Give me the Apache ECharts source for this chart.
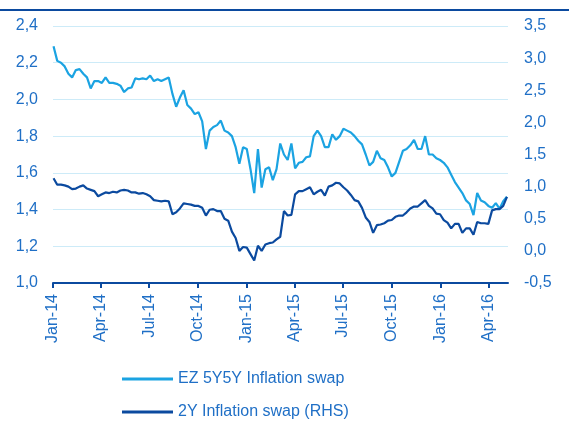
<!DOCTYPE html>
<html>
<head>
<meta charset="utf-8">
<script src="https://cdn.jsdelivr.net/npm/echarts@6/dist/echarts.min.js"></script>
<style>
  html, body { margin: 0; padding: 0; background: #fff; }
  #chart { width: 569px; height: 424px; }
</style>
</head>
<body>
<div id="chart"></div>
<script>
// weekly observations, first one on 2 Jan 2014
const firstDay = '2014-01-02';

// EZ 5Y5Y inflation swap (left axis)
const ez5y5y = [
  2.29, 2.21, 2.20, 2.18, 2.14, 2.12, 2.16, 2.165, 2.14, 2.12,
  2.06, 2.10, 2.10, 2.09, 2.12, 2.09, 2.09, 2.085, 2.075, 2.04,
  2.06, 2.065, 2.115, 2.11, 2.115, 2.11, 2.13, 2.10, 2.11, 2.10,
  2.11, 2.12, 2.03, 1.96, 2.01, 2.05, 1.97, 1.95, 1.92, 1.93,
  1.88, 1.73, 1.83, 1.85, 1.86, 1.885, 1.83, 1.82, 1.80, 1.74,
  1.65, 1.74, 1.73, 1.62, 1.49, 1.73, 1.52, 1.62, 1.63, 1.56,
  1.62, 1.76, 1.70, 1.67, 1.76, 1.625, 1.655, 1.66, 1.685, 1.69,
  1.80, 1.83, 1.80, 1.74, 1.74, 1.81, 1.78, 1.80, 1.84, 1.83,
  1.82, 1.80, 1.775, 1.755, 1.70, 1.64, 1.66, 1.72, 1.68, 1.67,
  1.63, 1.58, 1.60, 1.66, 1.72, 1.73, 1.75, 1.78, 1.73, 1.73,
  1.80, 1.70, 1.70, 1.68, 1.67, 1.655, 1.63, 1.59, 1.55, 1.52,
  1.49, 1.45, 1.43, 1.37, 1.49, 1.45, 1.44, 1.42, 1.41, 1.435,
  1.405, 1.445, 1.47
];

// 2Y inflation swap (right axis)
const swap2y = [
  1.13, 1.03, 1.03, 1.02, 1.00, 0.96, 0.97, 1.00, 1.02, 0.97,
  0.95, 0.93, 0.85, 0.88, 0.91, 0.90, 0.92, 0.91, 0.94, 0.95,
  0.94, 0.91, 0.91, 0.89, 0.90, 0.88, 0.85, 0.79, 0.78, 0.77,
  0.78, 0.77, 0.57, 0.60, 0.66, 0.74, 0.73, 0.72, 0.70, 0.70,
  0.67, 0.55, 0.64, 0.65, 0.62, 0.62, 0.50, 0.47, 0.30, 0.20,
  0.00, 0.06, 0.05, -0.05, -0.15, 0.08, 0.00, 0.10, 0.12, 0.13,
  0.18, 0.22, 0.62, 0.55, 0.56, 0.88, 0.93, 0.93, 0.96, 0.99,
  0.88, 0.92, 0.95, 0.86, 1.00, 1.02, 1.06, 1.05, 0.99, 0.94,
  0.87, 0.79, 0.77, 0.67, 0.52, 0.45, 0.28, 0.40, 0.41, 0.43,
  0.47, 0.48, 0.53, 0.55, 0.55, 0.60, 0.66, 0.69, 0.69, 0.74,
  0.79, 0.70, 0.66, 0.58, 0.57, 0.48, 0.44, 0.35, 0.42, 0.42,
  0.28, 0.35, 0.35, 0.25, 0.45, 0.43, 0.43, 0.42, 0.63, 0.65,
  0.65, 0.70, 0.84
];

const quarterTicks = [
  '2014-01-01', '2014-04-01', '2014-07-01', '2014-10-01',
  '2015-01-01', '2015-04-01', '2015-07-01', '2015-10-01',
  '2016-01-01', '2016-04-01'
];
const axisStart = '2014-01-01';
const axisEnd = '2016-05-07';

const monthNames = ['Jan', 'Feb', 'Mar', 'Apr', 'May', 'Jun', 'Jul', 'Aug', 'Sep', 'Oct', 'Nov', 'Dec'];
const DAY = 86400000;

function toTime(s) {
  const p = s.split('-');
  return Date.UTC(+p[0], +p[1] - 1, +p[2]);
}

const t0 = toTime(firstDay);
const dates = ez5y5y.map((v, i) => t0 + i * 7 * DAY);

function pairs(values) {
  return values.map((v, i) => [dates[i], v]);
}

const textBlue = '#1f6fc6';
const lightBlue = '#1ba3e2';
const darkBlue = '#0b4a9f';
const font = 'Liberation Sans, Arial, sans-serif';

const chart = echarts.init(document.getElementById('chart'), null, { renderer: 'canvas' });

chart.setOption({
  animation: false,
  textStyle: { fontFamily: font },
  graphic: [{
    type: 'line',
    shape: { x1: 0, y1: 10, x2: 569, y2: 10 },
    style: { stroke: darkBlue, lineWidth: 2 }
  }],
  grid: { left: 53, right: 61, top: 26, bottom: 141, containLabel: false },
  legend: {
    orient: 'vertical',
    left: 122,
    top: 370,
    padding: 0,
    icon: 'rect',
    itemWidth: 51,
    itemHeight: 3,
    itemGap: 15,
    textStyle: { color: textBlue, fontSize: 16, fontFamily: font, lineHeight: 18 },
    data: ['EZ 5Y5Y Inflation swap', '2Y Inflation swap (RHS)']
  },
  xAxis: {
    type: 'value',
    min: toTime(axisStart),
    max: toTime(axisEnd),
    splitLine: { show: false },
    axisLine: { show: true, onZero: false, lineStyle: { color: darkBlue, width: 2 } },
    axisTick: {
      show: true,
      length: 5,
      customValues: quarterTicks.map(toTime),
      lineStyle: { color: darkBlue, width: 2 }
    },
    axisLabel: {
      customValues: quarterTicks.map(toTime),
      rotate: 90,
      margin: 11,
      color: textBlue,
      fontSize: 16,
      fontFamily: font,
      formatter: function (v) {
        const d = new Date(v);
        return monthNames[d.getUTCMonth()] + '-' + String(d.getUTCFullYear()).slice(2);
      }
    }
  },
  yAxis: [
    {
      type: 'value',
      min: 1.0,
      max: 2.4,
      interval: 0.2,
      axisLine: { show: false },
      axisTick: { show: false },
      splitLine: { show: true, lineStyle: { color: '#cdebf8', width: 1 } },
      axisLabel: {
        color: textBlue,
        fontSize: 16,
        fontFamily: font,
        margin: 15,
        formatter: v => v.toFixed(1).replace('.', ',')
      }
    },
    {
      type: 'value',
      min: -0.5,
      max: 3.5,
      interval: 0.5,
      position: 'right',
      axisLine: { show: false },
      axisTick: { show: false },
      splitLine: { show: false },
      axisLabel: {
        color: textBlue,
        fontSize: 16,
        fontFamily: font,
        margin: 16,
        formatter: v => v.toFixed(1).replace('.', ',')
      }
    }
  ],
  series: [
    {
      name: 'EZ 5Y5Y Inflation swap',
      type: 'line',
      yAxisIndex: 0,
      showSymbol: false,
      symbol: 'none',
      itemStyle: { color: lightBlue },
      lineStyle: { color: lightBlue, width: 2.2 },
      data: pairs(ez5y5y)
    },
    {
      name: '2Y Inflation swap (RHS)',
      type: 'line',
      yAxisIndex: 1,
      showSymbol: false,
      symbol: 'none',
      itemStyle: { color: darkBlue },
      lineStyle: { color: darkBlue, width: 2.2 },
      data: pairs(swap2y)
    }
  ]
});
</script>
</body>
</html>
